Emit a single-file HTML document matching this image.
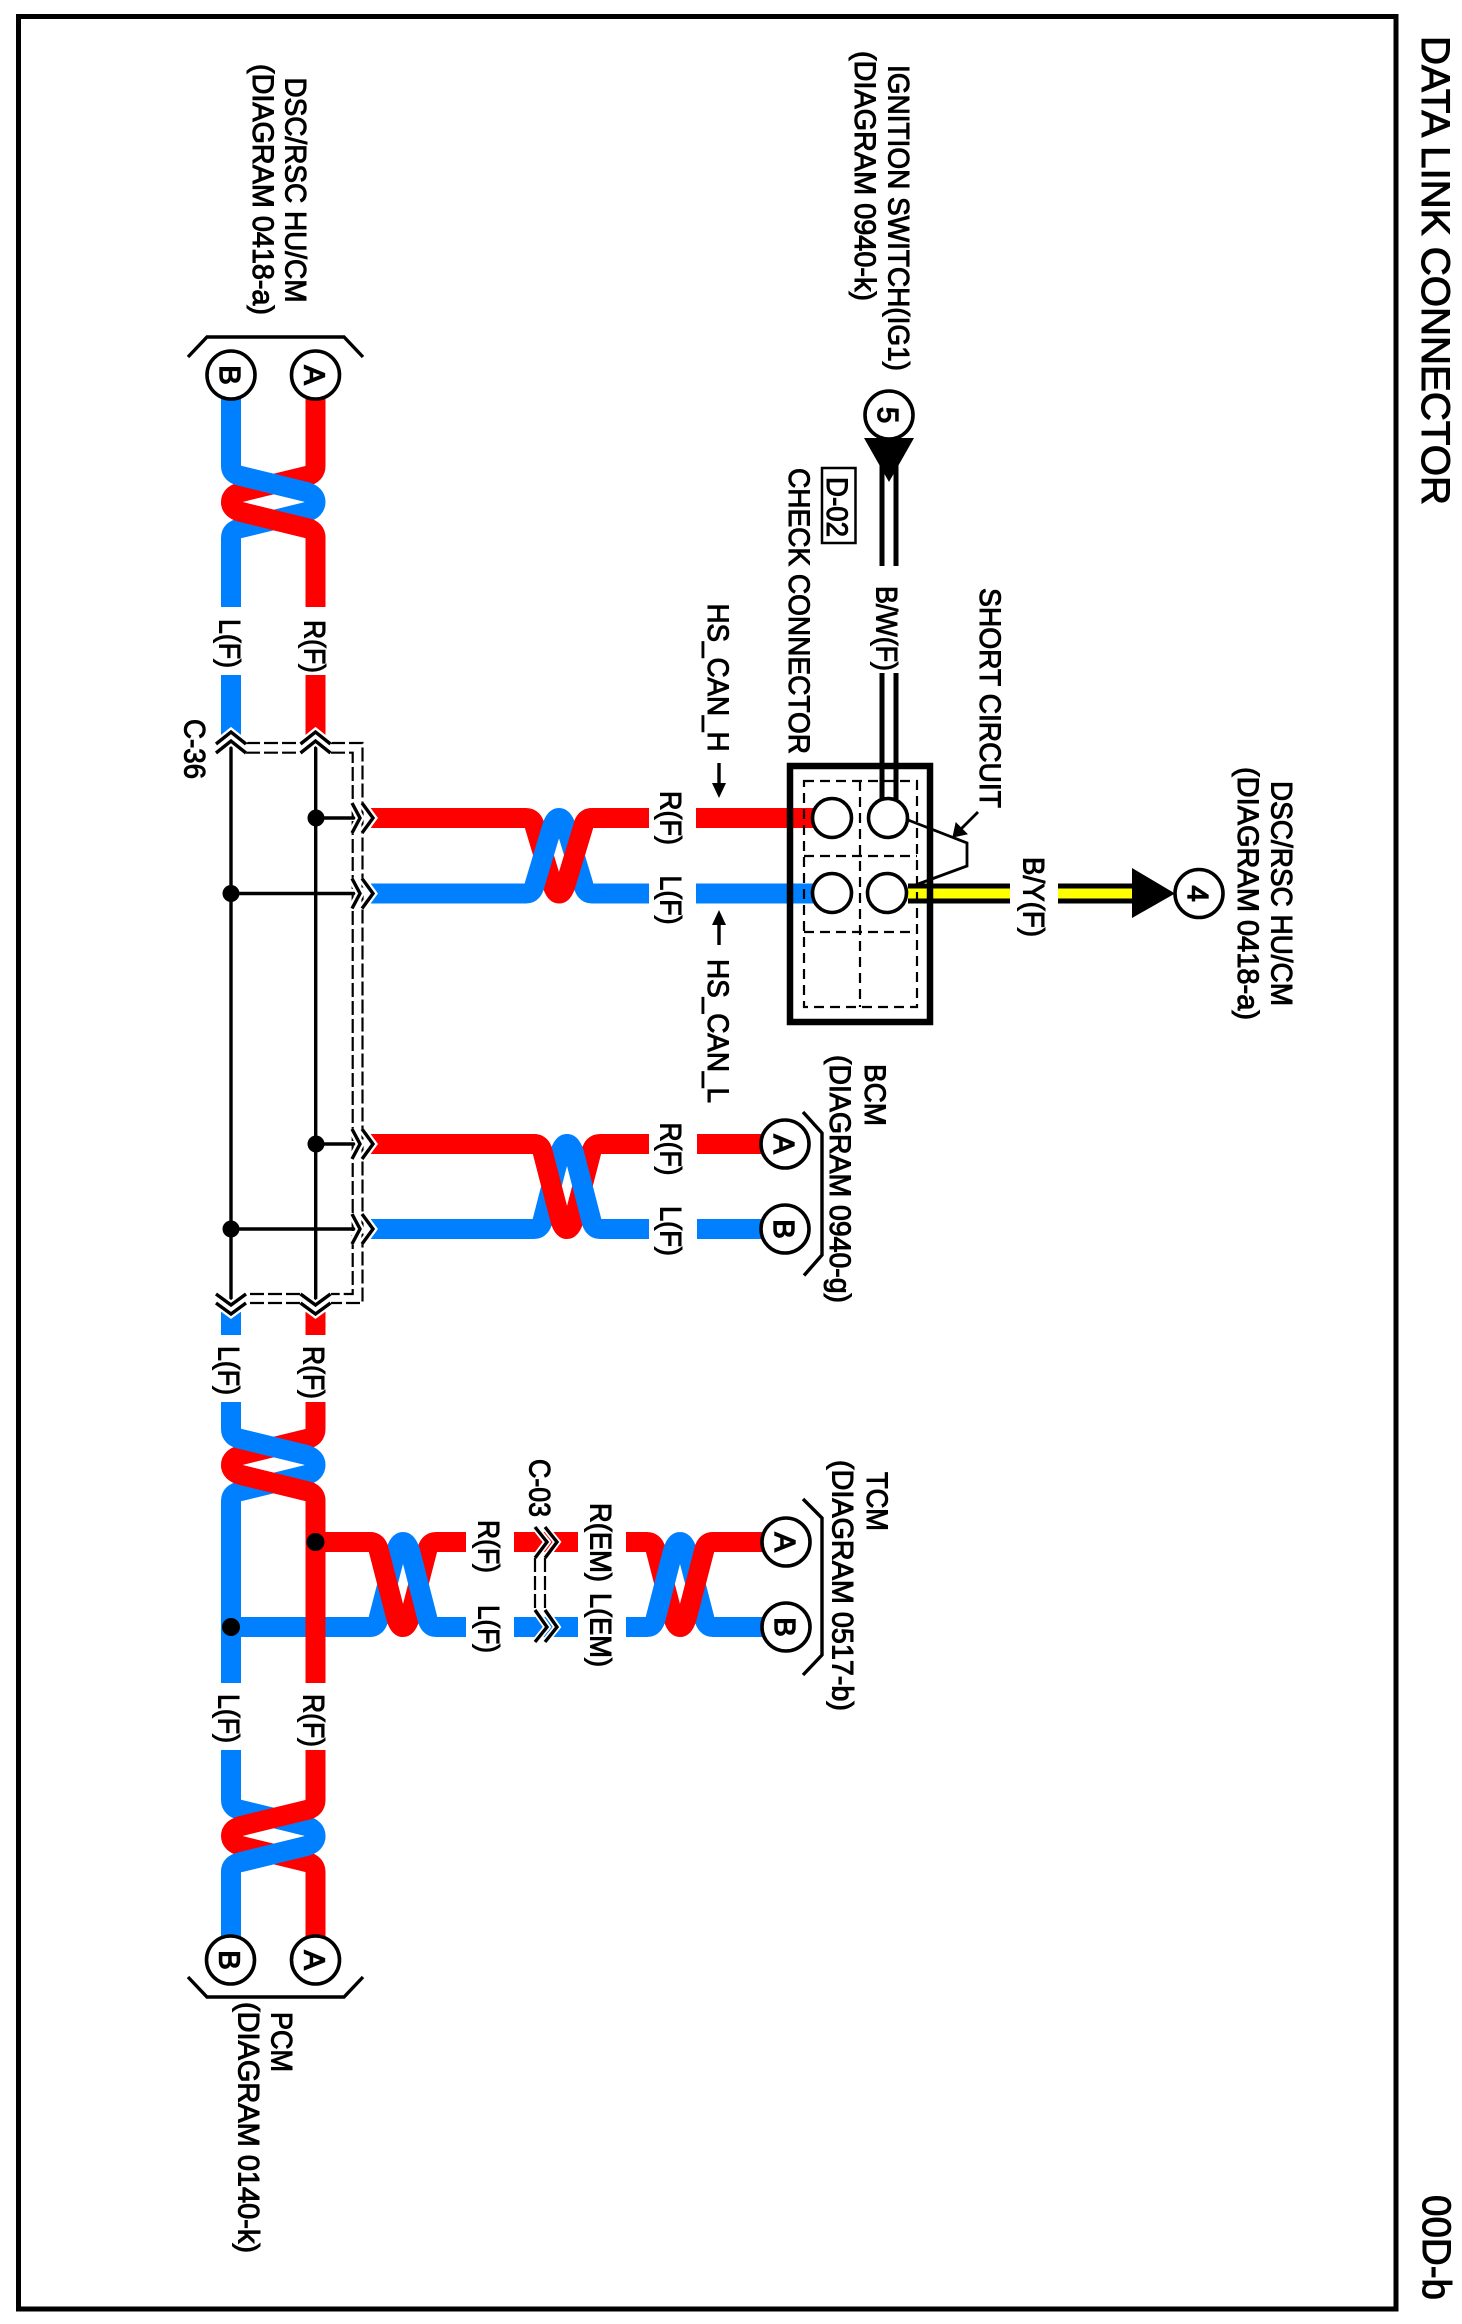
<!DOCTYPE html>
<html><head><meta charset="utf-8"><title>DATA LINK CONNECTOR</title>
<style>
html,body{margin:0;padding:0;background:#fff}
svg{display:block}
text{font-family:"Liberation Sans",sans-serif;font-size:30px;fill:#000;stroke:#000;stroke-width:1}
.c{text-anchor:middle;font-size:29px;stroke-width:1.4}
.r{fill:none;stroke:#ff0000;stroke-width:20}
.b{fill:none;stroke:#0080ff;stroke-width:20}
.k{fill:none;stroke:#000;stroke-width:3.4}
.h{fill:none;stroke:#fff;stroke-width:8}
.d{fill:none;stroke:#000;stroke-width:2.2;stroke-dasharray:14 4}
.o{fill:#fff;stroke:#000;stroke-width:3.6}
</style></head><body>
<svg width="1462" height="2324" viewBox="0 0 1462 2324" xmlns="http://www.w3.org/2000/svg">
<rect width="1462" height="2324" fill="#fff"/>
<rect x="18.5" y="16.5" width="1377.5" height="2292.5" fill="none" stroke="#000" stroke-width="5"/>

<!-- top twist -->
<path class="r" d="M315.5 398V466Q315.5 474 306.5 476L241 492Q231 495 231 502Q231 509 241 512L306.5 528Q315.5 530 315.5 538V607"/>
<path class="b" d="M231 398V466Q231 474 241 476L306.5 492Q315.5 495 315.5 502Q315.5 509 306.5 512L241 528Q231 530 231 538V607"/>
<path class="r" d="M231 502Q231 509 241 512L306.5 528Q315.5 530 315.5 538V607"/>
<path class="b" d="M231 675V735"/><path class="r" d="M315.5 675V735"/>
<path class="b" d="M231 1312V1335"/><path class="r" d="M315.5 1312V1335"/>

<!-- hub 1 -->
<path class="r" d="M370 818H526Q533 818 535 827L552 883.5Q555 893.5 559 893.5Q563 893.5 566 883.5L583 827Q585 818 592 818H649"/>
<path class="b" d="M370 893.5H526Q533 893.5 535 883.5L552 827Q555 818 559 818Q563 818 566 827L583 883.5Q585 893.5 592 893.5H649"/>
<path class="r" d="M559 893.5Q563 893.5 566 883.5L583 827Q585 818 592 818H649"/>
<path class="r" d="M696 818H815"/><path class="b" d="M696 893.5H815"/>

<!-- hub 2 -->
<path class="r" d="M370 1144H534Q541 1144 543 1153L560 1219Q563 1229 567 1229Q571 1229 574 1219L591 1153Q593 1144 600 1144H649"/>
<path class="b" d="M370 1229H534Q541 1229 543 1219L560 1153Q563 1144 567 1144Q571 1144 574 1153L591 1219Q593 1229 600 1229H649"/>
<path class="r" d="M370 1144H534Q541 1144 543 1153L560 1219Q563 1229 567 1229"/>
<path class="r" d="M697 1144H770"/><path class="b" d="M697 1229H770"/>

<!-- TCM branch -->
<path class="r" d="M315 1542H370Q377 1542 379 1551L396 1617Q399 1627 403 1627Q407 1627 410 1617L427 1551Q429 1542 436 1542H466"/>
<path class="b" d="M231 1627H370Q377 1627 379 1617L396 1551Q399 1542 403 1542Q407 1542 410 1551L427 1617Q429 1627 436 1627H466"/>
<path class="r" d="M315 1542H370Q377 1542 379 1551L396 1617Q399 1627 403 1627"/>
<path class="r" d="M514 1542H578"/><path class="b" d="M514 1627H578"/>
<path class="r" d="M626 1542H647Q654 1542 656 1551L673 1617Q676 1627 680 1627Q684 1627 687 1617L704 1551Q706 1542 713 1542H770"/>
<path class="b" d="M626 1627H647Q654 1627 656 1617L673 1551Q676 1542 680 1542Q684 1542 687 1551L704 1617Q706 1627 713 1627H770"/>
<path class="r" d="M680 1627Q684 1627 687 1617L704 1551Q706 1542 713 1542H770"/>

<!-- twist 4 -->
<path class="r" d="M315.5 1402V1429Q315.5 1437 306.5 1439L241 1455Q231 1458 231 1465Q231 1472 241 1475L306.5 1491Q315.5 1493 315.5 1501V1683"/>
<path class="b" d="M231 1402V1429Q231 1437 241 1439L306.5 1455Q315.5 1458 315.5 1465Q315.5 1472 306.5 1475L241 1491Q231 1493 231 1501V1683"/>
<path class="r" d="M231 1465Q231 1472 241 1475L306.5 1491Q315.5 1493 315.5 1501V1683"/>

<!-- twist 7 -->
<path class="b" d="M231 1750V1800Q231 1808 241 1810L306.5 1826Q315.5 1829 315.5 1836Q315.5 1843 306.5 1846L241 1862Q231 1864 231 1872V1940"/>
<path class="r" d="M315.5 1750V1800Q315.5 1808 306.5 1810L241 1826Q231 1829 231 1836Q231 1843 241 1846L306.5 1862Q315.5 1864 315.5 1872V1940"/>
<path class="b" d="M315.5 1836Q315.5 1843 306.5 1846L241 1862Q231 1864 231 1872V1940"/>

<!-- junction dots on wires -->
<circle cx="315.5" cy="1542" r="9"/><circle cx="231" cy="1627" r="9"/>

<!-- C-36 shield -->
<path class="d" d="M246 743H300M331 743H362.5V1303H331M300 1303H246"/>
<path class="d" d="M246 752.7H300M331 752.7H352.7V1294H331M300 1294H246"/>
<!-- C-36 inner lines -->
<path class="k" d="M231 741V1310M315.7 741V1310"/>
<path class="k" d="M316 818H360M231 893.5H360M316 1144H360M231 1229H360"/>
<circle cx="316" cy="818" r="8.5"/><circle cx="231" cy="893.5" r="8.5"/><circle cx="316" cy="1144" r="8.5"/><circle cx="231" cy="1229" r="8.5"/>

<!-- chevrons halo then black -->
<path class="h" d="M216 744L231 732L246 744M216 753L231 741L246 753M300.5 744L315.5 732L330.5 744M300.5 753L315.5 741L330.5 753"/>
<path class="h" d="M216 1294L231 1305L246 1294M216 1303L231 1314L246 1303M300.5 1294L315.5 1305L330.5 1294M300.5 1303L315.5 1314L330.5 1303"/>
<path class="h" d="M352 803L360 818L352 833M362 803L373 818L362 833M352 878.5L360 893.5L352 908.5M362 878.5L373 893.5L362 908.5M352 1129L360 1144L352 1159M362 1129L373 1144L362 1159M352 1214L360 1229L352 1244M362 1214L373 1229L362 1244"/>
<path class="k" d="M216 744L231 732L246 744M216 753L231 741L246 753M300.5 744L315.5 732L330.5 744M300.5 753L315.5 741L330.5 753"/>
<path class="k" d="M216 1294L231 1305L246 1294M216 1303L231 1314L246 1303M300.5 1294L315.5 1305L330.5 1294M300.5 1303L315.5 1314L330.5 1303"/>
<path class="k" d="M352 803L360 818L352 833M362 803L373 818L362 833M352 878.5L360 893.5L352 908.5M362 878.5L373 893.5L362 908.5M352 1129L360 1144L352 1159M362 1129L373 1144L362 1159M352 1214L360 1229L352 1244M362 1214L373 1229L362 1244"/>

<!-- C-03 -->
<path class="d" d="M535 1558V1610M545 1558V1610" stroke-dasharray="10 4"/>
<path class="h" d="M535 1527L547 1542L535 1558M545 1527L557 1542L545 1558M535 1610L547 1627L535 1642M545 1610L557 1627L545 1642" style="stroke-width:7"/>
<path class="k" d="M535 1527L547 1542L535 1558M545 1527L557 1542L545 1558M535 1610L547 1627L535 1642M545 1610L557 1627L545 1642"/>

<!-- B/W wire -->
<path d="M889 464V566M889 673V800" fill="none" stroke="#000" stroke-width="19"/>
<path d="M889 464V566M889 673V800" fill="none" stroke="#fff" stroke-width="9"/>
<!-- yellow wire -->
<path d="M908 893.5H1010M1058 893.5H1132" fill="none" stroke="#000" stroke-width="20"/>
<path d="M908 893.5H1010M1058 893.5H1132" fill="none" stroke="#ffff00" stroke-width="10"/>

<!-- check connector -->
<path d="M804 781H917V1007H804ZM860 781V1007M804 856H917M804 932H917" fill="none" stroke="#000" stroke-width="2.2" stroke-dasharray="10 6"/>
<rect x="790" y="766" width="140" height="256" fill="none" stroke="#000" stroke-width="6.5"/>
<circle class="o" cx="832" cy="818" r="19.5"/><circle class="o" cx="888" cy="818" r="19.5"/>
<circle class="o" cx="832" cy="893" r="19.5"/><circle class="o" cx="887" cy="893" r="19.5"/>
<path d="M908 820L967 843V866L910 887" fill="none" stroke="#000" stroke-width="2.8"/>
<path d="M978 812L958 832" fill="none" stroke="#000" stroke-width="2.8"/>
<path d="M953 837L956 823L967 834Z" stroke="#000" stroke-width="1"/>

<!-- terminal circles -->
<circle class="o" cx="231" cy="375" r="24"/><circle class="o" cx="315.5" cy="375" r="24"/>
<circle class="o" cx="230.5" cy="1960" r="24"/><circle class="o" cx="315.5" cy="1960" r="24"/>
<circle class="o" cx="785" cy="1144" r="24"/><circle class="o" cx="785" cy="1229" r="24"/>
<circle class="o" cx="786" cy="1542" r="24"/><circle class="o" cx="786" cy="1627" r="24"/>
<circle class="o" cx="889" cy="415" r="24"/><circle class="o" cx="1199" cy="893.5" r="24"/>
<path d="M864 438H914L889 482Z"/>
<path d="M1132 868V918L1175 893.5Z"/>

<!-- brackets -->
<path class="k" d="M188 357L207 337H344L363 357"/>
<path class="k" d="M188 1977L207 1997H344L363 1977"/>
<path class="k" d="M803 1112L822 1133V1255L804 1275.5"/>
<path class="k" d="M803 1499L822 1518V1655L803 1675"/>

<!-- HS_CAN arrows -->
<path class="k" d="M719 763V785M719 945V923"/>
<path d="M719 798L712 783H726Z"/><path d="M719 910L712 925H726Z"/>

<!-- D-02 box -->
<rect x="822" y="468" width="33.5" height="75" fill="#fff" stroke="#000" stroke-width="2.5"/>

<!-- circle letters -->
<text class="c" transform="translate(220,375) rotate(90)">B</text>
<text class="c" transform="translate(304.5,375) rotate(90)">A</text>
<text class="c" transform="translate(219.5,1960) rotate(90)">B</text>
<text class="c" transform="translate(304.5,1960) rotate(90)">A</text>
<text class="c" transform="translate(774,1144) rotate(90)">A</text>
<text class="c" transform="translate(774,1229) rotate(90)">B</text>
<text class="c" transform="translate(775,1542) rotate(90)">A</text>
<text class="c" transform="translate(775,1627) rotate(90)">B</text>
<text class="c" transform="translate(878,415) rotate(90)">5</text>
<text class="c" transform="translate(1188,893.5) rotate(90)">4</text>

<!-- labels -->
<text transform="translate(1422,36) rotate(90)" style="font-size:40px" textLength="469" lengthAdjust="spacingAndGlyphs">DATA LINK CONNECTOR</text>
<text transform="translate(1423,2195) rotate(90)" style="font-size:40px" textLength="105" lengthAdjust="spacingAndGlyphs">00D-b</text>
<text transform="translate(285.5,77.5) rotate(90)" textLength="225" lengthAdjust="spacingAndGlyphs">DSC/RSC HU/CM</text>
<text transform="translate(253,64) rotate(90)" textLength="251" lengthAdjust="spacingAndGlyphs">(DIAGRAM 0418-a)</text>
<text transform="translate(888.5,65) rotate(90)" textLength="306" lengthAdjust="spacingAndGlyphs">IGNITION SWITCH(IG1)</text>
<text transform="translate(855,51) rotate(90)" textLength="250" lengthAdjust="spacingAndGlyphs">(DIAGRAM 0940-k)</text>
<text transform="translate(827,477) rotate(90)" textLength="60" lengthAdjust="spacingAndGlyphs">D-02</text>
<text transform="translate(789,468) rotate(90)" textLength="286" lengthAdjust="spacingAndGlyphs">CHECK CONNECTOR</text>
<text transform="translate(980,588) rotate(90)" textLength="220" lengthAdjust="spacingAndGlyphs">SHORT CIRCUIT</text>
<text transform="translate(876.5,586) rotate(90)" textLength="85" lengthAdjust="spacingAndGlyphs">B/W(F)</text>
<text transform="translate(1023.5,857) rotate(90)" textLength="80" lengthAdjust="spacingAndGlyphs">B/Y(F)</text>
<text transform="translate(1271.5,781) rotate(90)" textLength="225" lengthAdjust="spacingAndGlyphs">DSC/RSC HU/CM</text>
<text transform="translate(1238,767) rotate(90)" textLength="253" lengthAdjust="spacingAndGlyphs">(DIAGRAM 0418-a)</text>
<text transform="translate(708,603.5) rotate(90)" textLength="148" lengthAdjust="spacingAndGlyphs">HS_CAN_H</text>
<text transform="translate(708,959) rotate(90)" textLength="144" lengthAdjust="spacingAndGlyphs">HS_CAN_L</text>
<text transform="translate(304.5,620) rotate(90)" textLength="53" lengthAdjust="spacingAndGlyphs">R(F)</text>
<text transform="translate(219.5,619) rotate(90)" textLength="49" lengthAdjust="spacingAndGlyphs">L(F)</text>
<text transform="translate(184.5,719) rotate(90)" textLength="60" lengthAdjust="spacingAndGlyphs">C-36</text>
<text transform="translate(660.5,791) rotate(90)" textLength="54" lengthAdjust="spacingAndGlyphs">R(F)</text>
<text transform="translate(660.5,875.5) rotate(90)" textLength="49" lengthAdjust="spacingAndGlyphs">L(F)</text>
<text transform="translate(660.5,1122.5) rotate(90)" textLength="53" lengthAdjust="spacingAndGlyphs">R(F)</text>
<text transform="translate(660.5,1206) rotate(90)" textLength="50" lengthAdjust="spacingAndGlyphs">L(F)</text>
<text transform="translate(865,1064) rotate(90)" textLength="62" lengthAdjust="spacingAndGlyphs">BCM</text>
<text transform="translate(830,1055) rotate(90)" textLength="248" lengthAdjust="spacingAndGlyphs">(DIAGRAM 0940-g)</text>
<text transform="translate(303.5,1346) rotate(90)" textLength="53" lengthAdjust="spacingAndGlyphs">R(F)</text>
<text transform="translate(218.5,1346) rotate(90)" textLength="49" lengthAdjust="spacingAndGlyphs">L(F)</text>
<text transform="translate(303.5,1694) rotate(90)" textLength="53" lengthAdjust="spacingAndGlyphs">R(F)</text>
<text transform="translate(218.5,1694) rotate(90)" textLength="49" lengthAdjust="spacingAndGlyphs">L(F)</text>
<text transform="translate(478.5,1520) rotate(90)" textLength="53" lengthAdjust="spacingAndGlyphs">R(F)</text>
<text transform="translate(478.5,1605) rotate(90)" textLength="48" lengthAdjust="spacingAndGlyphs">L(F)</text>
<text transform="translate(590.5,1503) rotate(90)" textLength="79" lengthAdjust="spacingAndGlyphs">R(EM)</text>
<text transform="translate(590.5,1593) rotate(90)" textLength="74" lengthAdjust="spacingAndGlyphs">L(EM)</text>
<text transform="translate(529.5,1459) rotate(90)" textLength="58" lengthAdjust="spacingAndGlyphs">C-03</text>
<text transform="translate(867,1472) rotate(90)" textLength="59" lengthAdjust="spacingAndGlyphs">TCM</text>
<text transform="translate(832.5,1460) rotate(90)" textLength="251" lengthAdjust="spacingAndGlyphs">(DIAGRAM 0517-b)</text>
<text transform="translate(271.5,2012) rotate(90)" textLength="60" lengthAdjust="spacingAndGlyphs">PCM</text>
<text transform="translate(238.5,2002) rotate(90)" textLength="251" lengthAdjust="spacingAndGlyphs">(DIAGRAM 0140-k)</text>
</svg>
</body></html>
